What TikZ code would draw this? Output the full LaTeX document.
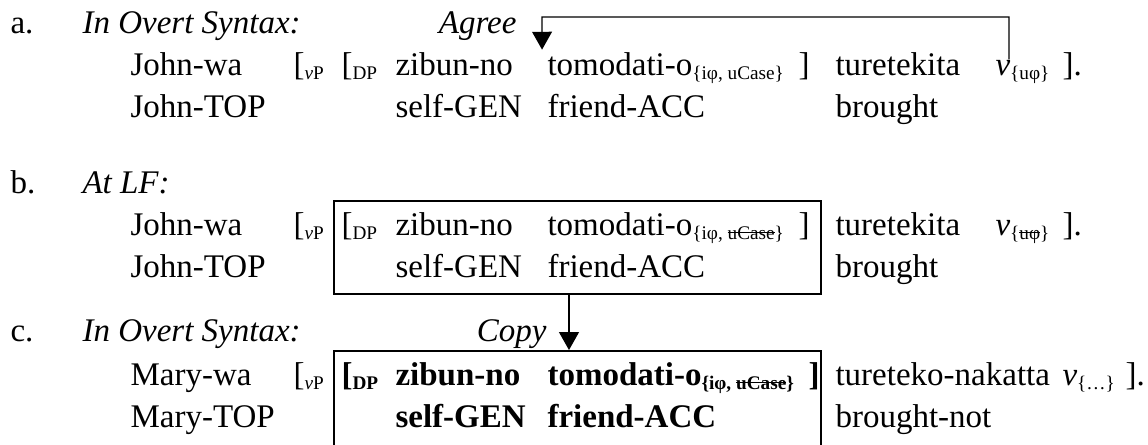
\documentclass[tikz,border=0pt]{standalone}
\usepackage{fontspec}
\setmainfont{Liberation Serif}
\usetikzlibrary{arrows.meta,positioning,fit}

\newcommand{\lo}[1]{\raisebox{-1.5pt}{\fontsize{7}{8}\selectfont #1}}
\newsavebox{\strkbox}
\newcommand{\strk}[1]{\sbox{\strkbox}{#1}\rlap{\rule[0.3em]{\wd\strkbox}{0.45pt}}\usebox{\strkbox}}

\begin{document}
\begin{tikzpicture}[x=0.3636pt, y=-0.3636pt,
    >={Triangle[length=6.5pt,width=7.2pt]},
    boxline/.style={draw, line width=0.7pt, inner sep=0pt},
    link/.style={->, line width=0.5pt}]
\useasboundingbox (0,0) rectangle (1148,444);

\begin{scope}[every node/.style={anchor=base west, inner sep=0pt, font=\fontsize{12}{14}\selectfont}]
        % (a) overt syntax
        \node (la) at (10,33) {a.};
        \node (hdA) at (82,33) {\textit{In Overt Syntax:}};
        \node[anchor=base east] (agree) at (517,33) {\textit{Agree}};

        \node (aJohn) at (130,75) {John-wa};
        \node (aVP) at (293,75) {[\lo{\textit{v}P}};
        \node (aDP) at (341,75) {[\lo{DP}};
        \node (aZib) at (395,75) {zibun-no};
        \node (aTom) at (547,75) {tomodati-o\lo{\{iφ, uCase\}}};
        \node (aRb) at (798,75) {]};
        \node (aTur) at (835,75) {turetekita};
        \node (aV) at (995,75) {\textit{v}\lo{\{uφ\}}};
        \node (aEnd) at (1062,75) {].};

        \node (aJohnG) at (130,117) {John-TOP};
        \node (aSelf) at (395,117) {self-GEN};
        \node (aFri) at (547,117) {friend-ACC};
        \node (aBro) at (835,117) {brought};

        % (b) LF
        \node (lb) at (10,193) {b.};
        \node (hdB) at (82,193) {\textit{At LF:}};

        \node (bJohn) at (130,235) {John-wa};
        \node (bVP) at (293,235) {[\lo{\textit{v}P}};
        \node (bDP) at (341,235) {[\lo{DP}};
        \node (bZib) at (395,235) {zibun-no};
        \node (bTom) at (547,235) {tomodati-o\lo{\{iφ, \strk{uCase}\}}};
        \node (bRb) at (798,235) {]};
        \node (bTur) at (835,235) {turetekita};
        \node (bV) at (995,235) {\textit{v}\lo{\{\strk{uφ}\}}};
        \node (bEnd) at (1062,235) {].};

        \node (bJohnG) at (130,277) {John-TOP};
        \node (bSelf) at (395,277) {self-GEN};
        \node (bFri) at (547,277) {friend-ACC};
        \node (bBro) at (835,277) {brought};

        % (c) copied DP
        \node (lc) at (10,341) {c.};
        \node (hdC) at (82,341) {\textit{In Overt Syntax:}};
        \node[anchor=base east] (copy) at (547,341) {\textit{Copy}};

        \node (cMary) at (130,385) {Mary-wa};
        \node (cVP) at (293,385) {[\lo{\textit{v}P}};
        \node (cDP) at (341,385) {\bfseries [\lo{DP}};
        \node (cZib) at (395,385) {\bfseries zibun-no};
        \node (cTom) at (547,385) {\bfseries tomodati-o\lo{\{iφ, \strk{uCase}\}}};
        \node (cRb) at (808,385) {\bfseries ]};
        \node (cTur) at (835,385) {tureteko-nakatta};
        \node (cV) at (1062,385) {\textit{v}\lo{\{…\}}};
        \node (cEnd) at (1125,385) {].};

        \node (cMaryG) at (130,427) {Mary-TOP};
        \node (cSelf) at (395,427) {\bfseries self-GEN};
        \node (cFri) at (547,427) {\bfseries friend-ACC};
        \node (cBro) at (835,427) {brought-not};
\end{scope}

        % boxed DPs
        \node[boxline, fit={(334,201) (821,294)}] (lfBox) {};
        \node[boxline, fit={(334,351) (821,470)}] (copyBox) {};

        % Agree: v probes the DP
        \coordinate (agreeFoot) at ([xshift=5.1pt]aV.north west);
        \coordinate (agreeTop) at (542,17);
        \coordinate (agreeTip) at ([xshift=-1.8pt,yshift=0.7pt]aTom.north west);
        \draw[link] (agreeFoot) |- (agreeTop) -- (agreeTip);

        % Copy: LF object into the new clause
        \coordinate (copyX) at (569,0);
        \draw[link] (lfBox.south -| copyX) -- (copyBox.north -| copyX);
\end{tikzpicture}
\end{document}
